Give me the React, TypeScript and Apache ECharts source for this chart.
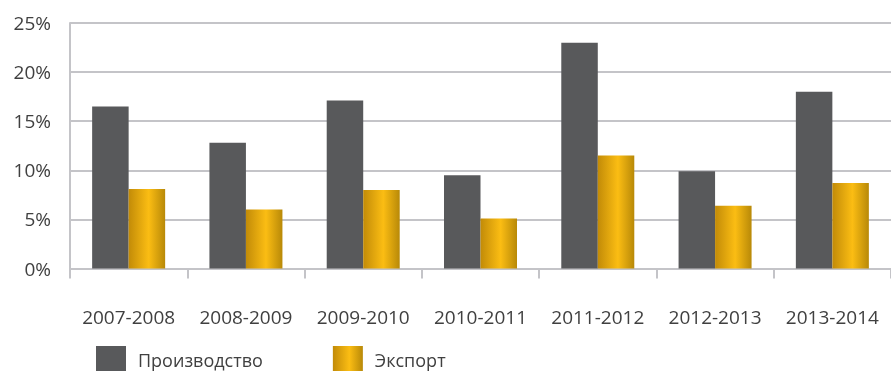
import React, { useEffect, useRef } from "react";
import * as echarts from "echarts";

// Seasons shown on the category axis
const seasons = [
  "2007-2008",
  "2008-2009",
  "2009-2010",
  "2010-2011",
  "2011-2012",
  "2012-2013",
  "2013-2014",
];

// Shares, in percent
const production = [16.5, 12.8, 17.1, 9.5, 23.0, 9.9, 18.0];
const exportShare = [8.1, 6.0, 8.0, 5.1, 11.5, 6.4, 8.7];

const seriesNames = ["Производство", "Экспорт"];

const FONT = "'Open Sans', 'Noto Sans', sans-serif";
const TEXT = "#404040";
const LINE = "#c4c4c8";

export default function App() {
  const ref = useRef<HTMLDivElement>(null);

  useEffect(() => {
    if (!ref.current) return;
    const chart = echarts.init(ref.current, null, { renderer: "svg" });

    const gold = new echarts.graphic.LinearGradient(0, 0, 1, 0, [
      { offset: 0, color: "#c28b08" },
      { offset: 0.55, color: "#fbbd13" },
      { offset: 1, color: "#b88908" },
    ]);

    chart.setOption({
      animation: false,
      textStyle: { fontFamily: FONT },
      grid: { left: 70, right: -5, top: 23, bottom: 102.5 },
      legend: {
        left: 96,
        top: 346,
        padding: 0,
        itemWidth: 30,
        itemHeight: 28,
        itemGap: 70,
        icon: "rect",
        data: seriesNames,
        formatter: (name: string) => `{gap|}{t|${name}}`,
        textStyle: {
          fontFamily: FONT,
          fontSize: 18,
          lineHeight: 20,
          color: TEXT,
          rich: {
            gap: { width: 7, lineHeight: 20 },
            t: { fontFamily: FONT, fontSize: 18, lineHeight: 20, color: TEXT },
          },
        },
      },
      xAxis: {
        type: "category",
        data: seasons,
        axisLine: { lineStyle: { color: LINE, width: 2 } },
        axisTick: {
          show: true,
          interval: 0,
          length: 10,
          lineStyle: { color: LINE, width: 2 },
        },
        axisLabel: {
          interval: 0,
          margin: 39,
          fontFamily: FONT,
          fontSize: 19,
          color: TEXT,
        },
      },
      yAxis: {
        type: "value",
        min: 0,
        max: 25,
        interval: 5,
        axisLine: { show: true, lineStyle: { color: LINE, width: 2 } },
        axisTick: { show: false },
        splitLine: { lineStyle: { color: LINE, width: 2 } },
        axisLabel: {
          margin: 19,
          fontFamily: FONT,
          fontSize: 19,
          color: TEXT,
          formatter: "{value}%",
        },
      },
      series: [
        {
          name: seriesNames[0],
          type: "bar",
          data: production,
          barWidth: 36.5,
          barGap: "0%",
          itemStyle: { color: "#58595b" },
        },
        {
          name: seriesNames[1],
          type: "bar",
          data: exportShare,
          barWidth: 36.5,
          barGap: "0%",
          itemStyle: { color: gold },
        },
      ],
    });

    return () => chart.dispose();
  }, []);

  return (
    <div
      ref={ref}
      style={{ position: "fixed", left: 0, top: 0, width: 891, height: 371 }}
    />
  );
}
